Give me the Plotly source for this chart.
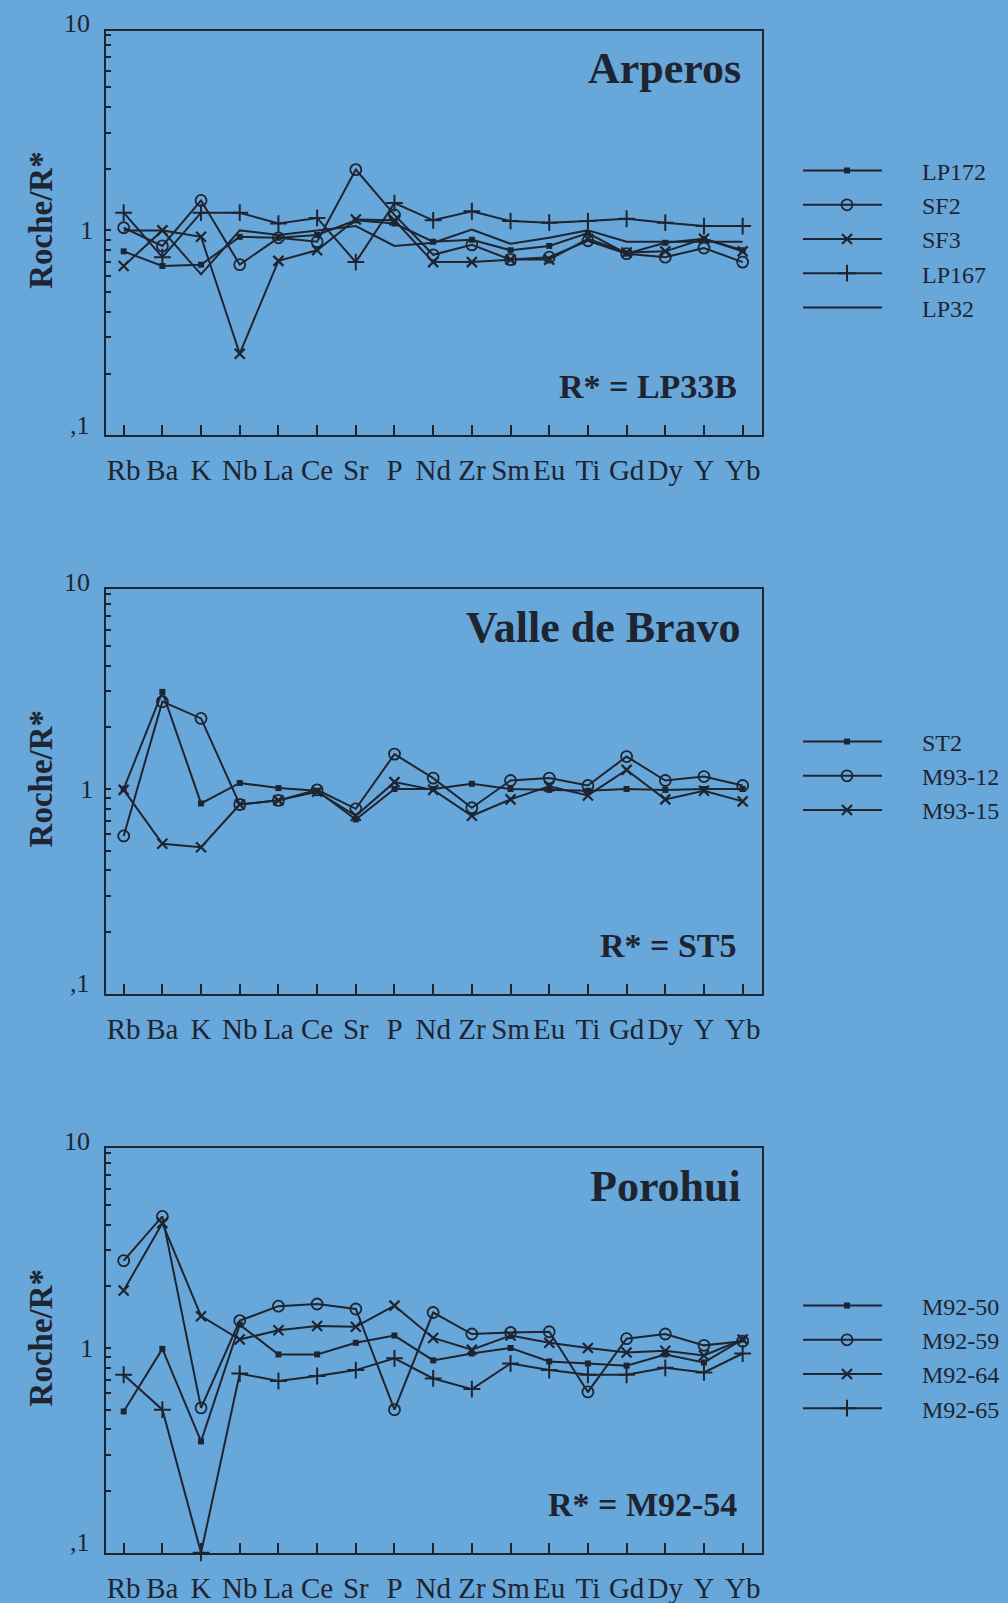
import plotly.graph_objects as go

elements = ["Rb", "Ba", "K", "Nb", "La", "Ce", "Sr", "P", "Nd", "Zr", "Sm", "Eu", "Ti", "Gd", "Dy", "Y", "Yb"]

# Arperos (R* = LP33B)
arp_LP172 = [0.79, 0.67, 0.68, 0.93, 0.92, 0.95, 1.12, 1.08, 0.88, 0.90, 0.80, 0.84, 0.97, 0.77, 0.87, 0.91, 0.80]
arp_SF2 = [1.03, 0.84, 1.40, 0.68, 0.92, 0.88, 1.98, 1.19, 0.76, 0.85, 0.72, 0.74, 0.89, 0.77, 0.74, 0.82, 0.70]
arp_SF3 = [0.67, 1.00, 0.93, 0.25, 0.71, 0.80, 1.13, 1.12, 0.70, 0.70, 0.72, 0.72, 0.91, 0.78, 0.79, 0.91, 0.79]
arp_LP167 = [1.22, 0.74, 1.22, 1.22, 1.08, 1.15, 0.70, 1.36, 1.12, 1.24, 1.11, 1.09, 1.11, 1.14, 1.09, 1.05, 1.05]
arp_LP32 = [1.00, 1.00, 0.61, 1.00, 0.95, 1.00, 1.05, 0.84, 0.87, 1.01, 0.86, 0.92, 1.00, 0.88, 0.88, 0.88, 0.88]

# Valle de Bravo (R* = ST5)
vb_ST2 = [1.00, 2.98, 0.85, 1.07, 1.01, 0.98, 0.71, 1.00, 1.00, 1.06, 1.00, 0.99, 0.98, 1.00, 0.99, 1.00, 1.00]
vb_M93_12 = [0.59, 2.67, 2.21, 0.84, 0.88, 0.99, 0.80, 1.48, 1.13, 0.81, 1.10, 1.13, 1.04, 1.44, 1.10, 1.15, 1.04]
vb_M93_15 = [0.99, 0.54, 0.52, 0.84, 0.88, 0.97, 0.74, 1.08, 0.99, 0.74, 0.89, 1.03, 0.93, 1.24, 0.89, 0.98, 0.87]

# Porohui (R* = M92-54)
po_M92_50 = [0.49, 0.99, 0.35, 1.30, 0.93, 0.93, 1.06, 1.15, 0.87, 0.94, 1.00, 0.86, 0.84, 0.82, 0.93, 0.85, 1.10]
po_M92_59 = [2.67, 4.39, 0.51, 1.36, 1.60, 1.64, 1.55, 0.50, 1.49, 1.17, 1.19, 1.20, 0.61, 1.11, 1.17, 1.03, 1.08]
po_M92_64 = [1.91, 4.07, 1.43, 1.10, 1.22, 1.28, 1.27, 1.61, 1.12, 0.98, 1.15, 1.06, 1.00, 0.95, 0.97, 0.92, 1.10]
po_M92_65 = [0.74, 0.50, 0.10, 0.75, 0.69, 0.73, 0.78, 0.89, 0.71, 0.63, 0.84, 0.78, 0.74, 0.74, 0.80, 0.76, 0.94]

panel_titles = ["Arperos", "Valle de Bravo", "Porohui"]
panel_refs = ["R* = LP33B", "R* = ST5", "R* = M92-54"]

BG = "#68a7da"
INK = "#1e2430"
SERIF = "Liberation Serif, Times New Roman, serif"

MARK = {
    "square": dict(symbol="square", size=6, color=INK),
    "circle": dict(symbol="circle-open", size=11, color=INK, line=dict(width=1.8, color=INK)),
    "x": dict(symbol="x-thin-open", size=10, color=INK, line=dict(width=2.2, color=INK)),
    "cross": dict(symbol="cross-thin-open", size=12, color=INK, line=dict(width=2, color=INK)),
}

panels = [
    [("LP172", arp_LP172, "square"), ("SF2", arp_SF2, "circle"), ("SF3", arp_SF3, "x"),
     ("LP167", arp_LP167, "cross"), ("LP32", arp_LP32, None)],
    [("ST2", vb_ST2, "square"), ("M93-12", vb_M93_12, "circle"), ("M93-15", vb_M93_15, "x")],
    [("M92-50", po_M92_50, "square"), ("M92-59", po_M92_59, "circle"),
     ("M92-64", po_M92_64, "x"), ("M92-65", po_M92_65, "cross")],
]

W, H = 1008, 1603
box_tops = [30.7, 589.3, 1148.3]
box_h = 404.5
x_dom = [105.5 / W, 762.0 / W]
legend_mid = [239, 776, 1357]

fig = go.Figure()
layout = dict(
    width=W, height=H, paper_bgcolor=BG, plot_bgcolor=BG,
    margin=dict(l=0, r=0, t=0, b=0), showlegend=True,
    font=dict(family=SERIF, color=INK),
)
annotations = []
shapes = []

yticks = [0.1, 0.2, 0.3, 0.4, 0.5, 0.6, 0.7, 0.8, 0.9, 1, 2, 3, 4, 5, 6, 7, 8, 9]
ytext = ["" if v != 1 else "1" for v in yticks]

for i, series in enumerate(panels):
    n = i + 1
    xa = "x" if n == 1 else f"x{n}"
    ya = "y" if n == 1 else f"y{n}"
    lg = "legend" if n == 1 else f"legend{n}"
    for name, vals, m in series:
        tr = dict(x=elements, y=vals, name=name, xaxis=xa, yaxis=ya, legend=lg,
                  legendgroup=f"{n}-{name}", line=dict(color=INK, width=2),
                  cliponaxis=False)
        if m is None:
            tr["mode"] = "lines"
        else:
            tr["mode"] = "lines+markers"
            tr["marker"] = MARK[m]
        fig.add_trace(go.Scatter(**tr))

    top = box_tops[i]
    bot = top + box_h
    ydom = [1 - bot / H, 1 - top / H]
    layout[f"xaxis{'' if n == 1 else n}"] = dict(
        domain=x_dom, anchor=ya, type="category", range=[-0.47, 16.5],
        showgrid=False, zeroline=False, showline=True, mirror=True,
        linecolor=INK, linewidth=2, ticks="inside", ticklen=10, tickwidth=1.5,
        tickcolor=INK, tickfont=dict(family=SERIF, size=29, color=INK),
        ticklabelstandoff=8,
    )
    layout[f"yaxis{'' if n == 1 else n}"] = dict(
        domain=ydom, anchor=xa, type="log", range=[-1.0, 0.975],
        showgrid=False, zeroline=False, showline=True, mirror=True,
        linecolor=INK, linewidth=2, ticks="inside", ticklen=5, tickwidth=1.5,
        tickcolor=INK, tickvals=yticks, ticktext=ytext,
        tickfont=dict(family=SERIF, size=26, color=INK), ticklabelstandoff=5,
    )
    xd = xa + " domain"
    yd = ya + " domain"
    # reference line at Roche/R* = 1 (log axis: log10(1) = 0)
    shapes.append(dict(type="line", xref=xd, yref=ya, x0=0, x1=1.022, y0=0, y1=0,
                       line=dict(color=INK, width=2.2)))
    # y axis end labels
    annotations.append(dict(xref=xd, yref=yd, x=-0.02, y=1.017, text="10", showarrow=False,
                            xanchor="right", yanchor="middle",
                            font=dict(family=SERIF, size=26, color=INK)))
    annotations.append(dict(xref=xd, yref=yd, x=-0.02, y=0.025, text=",1", showarrow=False,
                            xanchor="right", yanchor="middle",
                            font=dict(family=SERIF, size=26, color=INK)))
    # y title
    annotations.append(dict(xref="paper", yref=yd, x=41 / W, y=0.53,
                            text="<b>Roche/R*</b>", showarrow=False, textangle=-90,
                            xanchor="center", yanchor="middle",
                            font=dict(family=SERIF, size=33, color=INK)))
    # panel title and reference
    annotations.append(dict(xref="paper", yref="paper", x=743 / W, y=1 - (top + 38) / H,
                            text=f"<b>{panel_titles[i]}</b>", showarrow=False,
                            xanchor="right", yanchor="middle",
                            font=dict(family=SERIF, size=44, color=INK)))
    annotations.append(dict(xref="paper", yref="paper", x=739 / W, y=1 - (top + 356) / H,
                            text=f"<b>{panel_refs[i]}</b>", showarrow=False,
                            xanchor="right", yanchor="middle",
                            font=dict(family=SERIF, size=34, color=INK)))
    layout[lg] = dict(x=772 / W, y=1 - legend_mid[i] / H, xanchor="left", yanchor="middle",
                      bgcolor="rgba(0,0,0,0)", borderwidth=0,
                      font=dict(family=SERIF, size=24, color=INK),
                      tracegroupgap=15, itemwidth=140, traceorder="normal")

layout["annotations"] = annotations
layout["shapes"] = shapes
fig.update_layout(**layout)

post_js = (
    "document.body.style.margin='0';"
    "document.body.style.background='" + BG + "';"
    "document.querySelectorAll('.legendlines path').forEach(function(p){"
    "p.setAttribute('d','M31,0h79');});"
)
fig.write_html("out.html", post_script=post_js, config={"displayModeBar": False})
